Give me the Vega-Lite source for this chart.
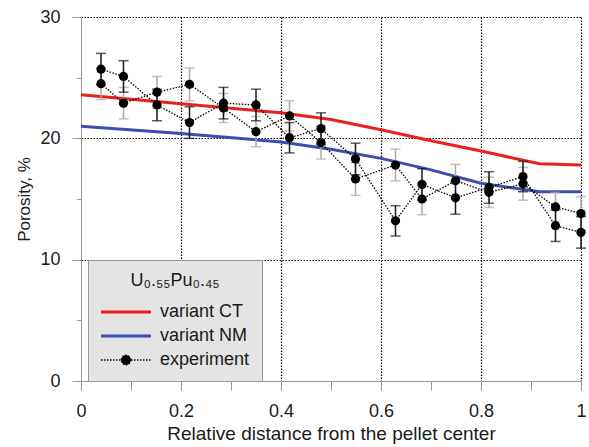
{
  "$schema": "https://vega.github.io/schema/vega-lite/v6.json",
  "width": 500,
  "height": 364,
  "autosize": {"type": "none"},
  "padding": {"left": 81, "top": 17, "right": 8, "bottom": 66},
  "config": {
    "view": {"stroke": null},
    "font": "Liberation Sans",
    "axis": {
      "domainColor": "#999999",
      "tickColor": "#999999",
      "labelColor": "#1a1a1a",
      "titleColor": "#1a1a1a",
      "titleFontWeight": "normal",
      "labelFont": "Liberation Sans",
      "titleFont": "Liberation Sans",
      "grid": true,
      "gridColor": "#000000",
      "gridDash": [1.5, 1.5],
      "gridWidth": 1.2,
      "labelOverlap": false,
      "labelFlush": false
    }
  },
  "datasets": {
    "model": [
      {"x": 0.0, "y": 23.6, "series": "variant CT"},
      {"x": 0.2, "y": 22.85, "series": "variant CT"},
      {"x": 0.4, "y": 22.1, "series": "variant CT"},
      {"x": 0.5, "y": 21.55, "series": "variant CT"},
      {"x": 0.6, "y": 20.7, "series": "variant CT"},
      {"x": 0.7, "y": 19.8, "series": "variant CT"},
      {"x": 0.8, "y": 18.95, "series": "variant CT"},
      {"x": 0.917, "y": 17.9, "series": "variant CT"},
      {"x": 1.0, "y": 17.8, "series": "variant CT"},
      {"x": 0.0, "y": 21.0, "series": "variant NM"},
      {"x": 0.2, "y": 20.4, "series": "variant NM"},
      {"x": 0.4, "y": 19.7, "series": "variant NM"},
      {"x": 0.5, "y": 19.1, "series": "variant NM"},
      {"x": 0.6, "y": 18.35, "series": "variant NM"},
      {"x": 0.7, "y": 17.4, "series": "variant NM"},
      {"x": 0.8, "y": 16.3, "series": "variant NM"},
      {"x": 0.9, "y": 15.7, "series": "variant NM"},
      {"x": 0.917, "y": 15.6, "series": "variant NM"},
      {"x": 1.0, "y": 15.6, "series": "variant NM"}
    ],
    "exp": [
      {"x": 0.04, "y": 25.7, "err": 1.3, "run": "A", "series": "experiment"},
      {"x": 0.085, "y": 25.1, "err": 1.3, "run": "A", "series": "experiment"},
      {"x": 0.152, "y": 22.75, "err": 1.3, "run": "A", "series": "experiment"},
      {"x": 0.217, "y": 21.3, "err": 1.3, "run": "A", "series": "experiment"},
      {"x": 0.285, "y": 22.9, "err": 1.3, "run": "A", "series": "experiment"},
      {"x": 0.35, "y": 22.75, "err": 1.3, "run": "A", "series": "experiment"},
      {"x": 0.417, "y": 20.05, "err": 1.25, "run": "A", "series": "experiment"},
      {"x": 0.48, "y": 20.8, "err": 1.3, "run": "A", "series": "experiment"},
      {"x": 0.549, "y": 18.3, "err": 1.3, "run": "A", "series": "experiment"},
      {"x": 0.629, "y": 13.2, "err": 1.25, "run": "A", "series": "experiment"},
      {"x": 0.682, "y": 16.2, "err": 1.3, "run": "A", "series": "experiment"},
      {"x": 0.749, "y": 15.1, "err": 1.35, "run": "A", "series": "experiment"},
      {"x": 0.816, "y": 15.95, "err": 1.3, "run": "A", "series": "experiment"},
      {"x": 0.884, "y": 16.85, "err": 1.25, "run": "A", "series": "experiment"},
      {"x": 0.949, "y": 12.8, "err": 1.3, "run": "A", "series": "experiment"},
      {"x": 1.0, "y": 12.25, "err": 1.3, "run": "A", "series": "experiment"},
      {"x": 0.04, "y": 24.5, "err": 1.3, "run": "B", "series": "experiment"},
      {"x": 0.085, "y": 22.9, "err": 1.3, "run": "B", "series": "experiment"},
      {"x": 0.152, "y": 23.8, "err": 1.3, "run": "B", "series": "experiment"},
      {"x": 0.217, "y": 24.45, "err": 1.35, "run": "B", "series": "experiment"},
      {"x": 0.285, "y": 22.5, "err": 1.2, "run": "B", "series": "experiment"},
      {"x": 0.35, "y": 20.55, "err": 1.25, "run": "B", "series": "experiment"},
      {"x": 0.417, "y": 21.85, "err": 1.25, "run": "B", "series": "experiment"},
      {"x": 0.48, "y": 19.65, "err": 1.35, "run": "B", "series": "experiment"},
      {"x": 0.549, "y": 16.65, "err": 1.35, "run": "B", "series": "experiment"},
      {"x": 0.629, "y": 17.8, "err": 1.3, "run": "B", "series": "experiment"},
      {"x": 0.682, "y": 15.0, "err": 1.3, "run": "B", "series": "experiment"},
      {"x": 0.749, "y": 16.5, "err": 1.35, "run": "B", "series": "experiment"},
      {"x": 0.816, "y": 15.55, "err": 1.25, "run": "B", "series": "experiment"},
      {"x": 0.884, "y": 16.25, "err": 1.35, "run": "B", "series": "experiment"},
      {"x": 0.949, "y": 14.35, "err": 1.2, "run": "B", "series": "experiment"},
      {"x": 1.0, "y": 13.8, "err": 1.4, "run": "B", "series": "experiment"}
    ]
  },
  "encoding": {
    "x": {
      "field": "x",
      "type": "quantitative",
      "scale": {"domain": [0, 1], "nice": false, "zero": false},
      "axis": {
        "values": [0, 0.1, 0.2, 0.3, 0.4, 0.5, 0.6, 0.7, 0.8, 0.9, 1],
        "format": "~g",
        "labelExpr": "round(datum.value * 10) % 2 === 0 ? datum.label : ''",
        "gridOpacity": {"condition": {"test": "round(datum.value * 10) % 2 === 0 && datum.value > 0", "value": 1}, "value": 0},
        "tickSize": 9,
        "labelPadding": 12,
        "labelFontSize": 18,
        "title": "Relative distance from the pellet center",
        "titleFontSize": 19,
        "titlePadding": 4
      }
    },
    "y": {
      "field": "y",
      "type": "quantitative",
      "scale": {"domain": [0, 30], "nice": false},
      "axis": {
        "values": [0, 5, 10, 15, 20, 25, 30],
        "labelExpr": "datum.value % 10 === 0 ? datum.label : ''",
        "gridOpacity": {"condition": {"test": "datum.value % 10 === 0 && datum.value > 0", "value": 1}, "value": 0},
        "tickSize": {"condition": {"test": "datum.value % 10 === 0", "value": 9}, "value": 4.5},
        "labelPadding": 12,
        "labelFontSize": 18,
        "title": "Porosity, %",
        "titleFontSize": 17,
        "titlePadding": 6
      }
    }
  },
  "layer": [
    {
      "data": {"name": "model"},
      "mark": {"type": "line", "strokeWidth": 3},
      "encoding": {
        "color": {
          "field": "series",
          "type": "nominal",
          "scale": {"domain": ["variant CT", "variant NM", "experiment"], "range": ["#e8201e", "#3b4faf", "#000000"]},
          "legend": {
            "title": "U₀.₅₅Pu₀.₄₅",
            "orient": "none",
            "legendX": 7,
            "legendY": 243,
            "direction": "vertical",
            "fillColor": "#e4e4e4",
            "strokeColor": "#999999",
            "padding": 12,
            "symbolType": "stroke",
            "symbolSize": 2500,
            "symbolStrokeWidth": 3,
            "symbolOffset": 17,
            "labelFontSize": 18,
            "labelColor": "#1a1a1a",
            "labelOffset": 25,
            "rowPadding": 6,
            "titleFontSize": 18,
            "titleFontWeight": "normal",
            "titleColor": "#1a1a1a",
            "titleAnchor": "middle",
            "titlePadding": 13,
            "encode": {
              "symbols": {
                "update": {
                  "shape": {"signal": "datum.value === 'experiment' ? 'M-1,0L1,0M0.19,0A0.19,0.19,0,1,1,-0.19,0A0.19,0.19,0,1,1,0.19,0Z' : 'stroke'"},
                  "fill": {"signal": "datum.value === 'experiment' ? '#000000' : 'transparent'"},
                  "strokeDash": {"signal": "datum.value === 'experiment' ? [1.5, 1.5] : [1, 0]"},
                  "strokeWidth": {"signal": "datum.value === 'experiment' ? 1.3 : 3"}
                }
              }
            }
          }
        }
      }
    },
    {
      "data": {"name": "exp"},
      "mark": {"type": "line", "strokeWidth": 1.3, "strokeDash": [1.5, 1.5]},
      "encoding": {
        "detail": {"field": "run", "type": "nominal"},
        "color": {"field": "series", "type": "nominal"}
      }
    },
    {
      "data": {"name": "exp"},
      "transform": [{"filter": "datum.run === 'B'"}],
      "mark": {"type": "errorbar", "ticks": {"size": 10}, "color": "#aaaaaa", "thickness": 1.5},
      "encoding": {
        "yError": {"field": "err"}
      }
    },
    {
      "data": {"name": "exp"},
      "transform": [{"filter": "datum.run === 'A'"}],
      "mark": {"type": "errorbar", "ticks": {"size": 10}, "color": "#1a1a1a", "thickness": 1.5},
      "encoding": {
        "yError": {"field": "err"}
      }
    },
    {
      "data": {"name": "exp"},
      "mark": {"type": "circle", "size": 85, "color": "#000000", "opacity": 1}
    }
  ]
}
